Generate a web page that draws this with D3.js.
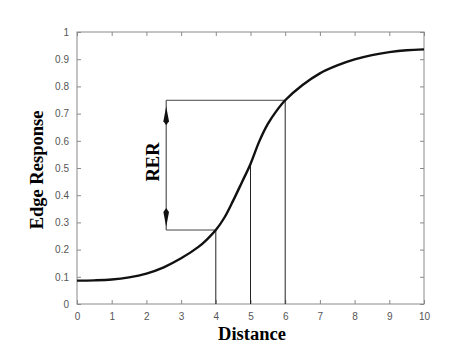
<!DOCTYPE html>
<html><head><meta charset="utf-8">
<script src="https://cdn.jsdelivr.net/npm/d3@7"></script>
<style>body{margin:0;background:#fff}</style>
</head><body>
<svg id="c" width="466" height="360"></svg>
<script>
const distance = [0,0.5,1,1.5,2,2.5,3,3.5,3.75,4,4.25,4.5,4.75,5,5.25,5.5,5.75,6,6.5,7,7.5,8,8.5,9,9.5,10];
const edgeResponse = [0.086,0.087,0.090,0.098,0.112,0.135,0.168,0.210,0.238,0.272,0.318,0.380,0.447,0.515,0.597,0.662,0.710,0.749,0.805,0.848,0.877,0.899,0.915,0.926,0.933,0.936];
const xTicks = [0,1,2,3,4,5,6,7,8,9,10];
const yTicks = [0,0.1,0.2,0.3,0.4,0.5,0.6,0.7,0.8,0.9,1];
const markX = [4,5,6];
const markY = [0.272,0.515,0.749];
const arrowX = 2.57;

const svg = d3.select("#c");
const x = d3.scaleLinear().domain([0,10]).range([77,424]);
const y = d3.scaleLinear().domain([0,1]).range([304,32]);
const frame = "#8a8a8a";

svg.append("rect").attr("x",x(0)).attr("y",y(1)).attr("width",x(10)-x(0)).attr("height",y(0)-y(1))
  .attr("fill","none").attr("stroke",frame).attr("stroke-width",1);

const fmt = d => d3.format("~g")(d);
const gBottom = svg.append("g").attr("transform",`translate(0,${y(0)})`)
  .call(d3.axisBottom(x).tickValues(xTicks).tickSize(-4).tickPadding(9).tickFormat(fmt));
const gTop = svg.append("g").attr("transform",`translate(0,${y(1)})`)
  .call(d3.axisTop(x).tickValues(xTicks).tickSize(-4).tickFormat(""));
const gLeft = svg.append("g").attr("transform",`translate(${x(0)},0)`)
  .call(d3.axisLeft(y).tickValues(yTicks).tickSize(-4).tickPadding(8).tickFormat(fmt));
const gRight = svg.append("g").attr("transform",`translate(${x(10)},0)`)
  .call(d3.axisRight(y).tickValues(yTicks).tickSize(-4).tickFormat(""));
[gBottom,gTop,gLeft,gRight].forEach(g=>{
  g.select(".domain").remove();
  g.selectAll("line").attr("stroke",frame);
  g.selectAll("text").attr("fill","#555").style("font-family","Liberation Sans, Arial, sans-serif").style("font-size","10px");
});

const gl = svg.append("g").attr("stroke","#222").attr("stroke-width",1).attr("fill","none");
markX.forEach((mx,i)=>{
  gl.append("line").attr("x1",x(mx)).attr("x2",x(mx)).attr("y1",y(0)).attr("y2",y(markY[i]));
});
gl.append("line").attr("x1",x(arrowX)).attr("x2",x(markX[0])).attr("y1",y(markY[0])).attr("y2",y(markY[0])).attr("stroke","#444");
gl.append("line").attr("x1",x(arrowX)).attr("x2",x(markX[2])).attr("y1",y(markY[2])).attr("y2",y(markY[2])).attr("stroke","#444");
gl.append("line").attr("x1",x(arrowX)).attr("x2",x(arrowX)).attr("y1",y(markY[2])).attr("y2",y(markY[0])).attr("stroke","#333");

const ax = x(arrowX);
const yTopA = y(markY[2]) + 6, yBotA = y(markY[0]) - 3;
svg.append("path").attr("fill","#111")
  .attr("d",`M${ax},${yTopA} L${ax+2.8},${yTopA+15} L${ax},${yTopA+19} L${ax-2.8},${yTopA+15} Z`);
svg.append("path").attr("fill","#111")
  .attr("d",`M${ax},${yBotA} L${ax+2.8},${yBotA-15} L${ax},${yBotA-19} L${ax-2.8},${yBotA-15} Z`);

svg.append("path").datum(distance.map((d,i)=>[d,edgeResponse[i]]))
  .attr("fill","none").attr("stroke","#111").attr("stroke-width",2.4)
  .attr("d",d3.line().x(d=>x(d[0])).y(d=>y(d[1])).curve(d3.curveCatmullRom.alpha(0.5)));

const serif = "Liberation Serif, Times New Roman, serif";
svg.append("text").attr("x",252).attr("y",340).attr("text-anchor","middle")
  .style("font-family",serif).style("font-weight","bold").style("font-size","18.5px").text("Distance");
svg.append("text").attr("transform","translate(43,170) rotate(-90)").attr("text-anchor","middle")
  .style("font-family",serif).style("font-weight","bold").style("font-size","18.5px").text("Edge Response");
svg.append("text").attr("transform","translate(159,162) rotate(-90)").attr("text-anchor","middle")
  .style("font-family",serif).style("font-weight","bold").style("font-size","18.5px").text("RER");
</script>
</body></html>
